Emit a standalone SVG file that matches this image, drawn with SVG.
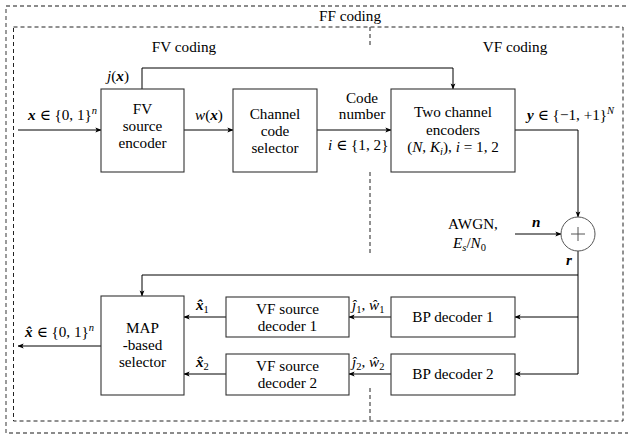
<svg xmlns="http://www.w3.org/2000/svg" width="628" height="434" viewBox="0 0 628 434">
<style>
text{font-family:"Liberation Serif","DejaVu Serif",serif;font-size:15.2px;fill:#000}
.c{text-anchor:middle}
.m{font-style:italic}
.b{font-weight:bold;font-style:italic}
.s{font-size:10.5px}
.box{fill:#fff;stroke:#333;stroke-width:1.1}
.ln{fill:none;stroke:#000;stroke-width:1}
.d1{fill:none;stroke:#666;stroke-width:1.3;stroke-dasharray:4 3}
.d2{fill:none;stroke:#222;stroke-width:1;stroke-dasharray:4 3}
</style>
<defs>
<marker id="ah" viewBox="0 0 8 8" refX="7.5" refY="4" markerWidth="6" markerHeight="6" markerUnits="userSpaceOnUse" orient="auto">
<path d="M0,0.8 L8,4 L0,7.2 L1.8,4 Z" fill="#000"/>
</marker>
</defs>
<rect width="628" height="434" fill="#fff"/>
<g id="frames">
<rect class="d1" x="6" y="6" width="630" height="427"/>
<rect class="d2" x="13.5" y="27" width="609.5" height="394"/>
<path class="d2" d="M370,27 V48 M370,172 V253 M370,388 V421"/>
<text class="c" x="350" y="21">FF coding</text>
<text class="c" x="184" y="52">FV coding</text>
<text class="c" x="515" y="52">VF coding</text>
</g>
<g id="connectors">
<path class="ln" d="M18,130 H101" marker-end="url(#ah)"/>
<path class="ln" d="M184,130 H233" marker-end="url(#ah)"/>
<path class="ln" d="M317,130 H391" marker-end="url(#ah)"/>
<path class="ln" d="M142,89 V68 H453 V89" marker-end="url(#ah)"/>
<path class="ln" d="M515,130 H578 V217" marker-end="url(#ah)"/>
<path class="ln" d="M515,234 H561" marker-end="url(#ah)"/>
<path class="ln" d="M578,251 V374"/>
<path class="ln" d="M578,275 H142 V296" marker-end="url(#ah)"/>
<path class="ln" d="M578,317 H515" marker-end="url(#ah)"/>
<path class="ln" d="M578,374 H515" marker-end="url(#ah)"/>
<path class="ln" d="M391,317 H349" marker-end="url(#ah)"/>
<path class="ln" d="M391,374 H349" marker-end="url(#ah)"/>
<path class="ln" d="M226,317 H184" marker-end="url(#ah)"/>
<path class="ln" d="M226,374 H184" marker-end="url(#ah)"/>
<path class="ln" d="M101,346 H18" marker-end="url(#ah)"/>
</g>
<g id="labels">
<text x="28" y="120"><tspan class="b">x</tspan> ∈ {0, 1}<tspan class="m s" dy="-6">n</tspan></text>
<text x="107" y="81"><tspan class="m">j</tspan>(<tspan class="b">x</tspan>)</text>
<text x="195" y="120"><tspan class="m">w</tspan>(<tspan class="b">x</tspan>)</text>
<text class="c" x="362" y="103">Code</text>
<text class="c" x="362" y="119">number</text>
<text x="328" y="150"><tspan class="m">i</tspan> ∈ {1, 2}</text>
<text x="527" y="120"><tspan class="b">y</tspan> ∈ {−1, +1}<tspan class="m s" dy="-6">N</tspan></text>
<text class="c" x="473" y="229">AWGN,</text>
<text x="453" y="248"><tspan class="m">E</tspan><tspan class="m s" dy="3">s</tspan><tspan dy="-3">/</tspan><tspan class="m">N</tspan><tspan class="s" dy="3">0</tspan></text>
<text x="532" y="227" class="b">n</text>
<text x="566" y="265" class="b">r</text>
<text x="352" y="310"><tspan class="m">ĵ</tspan><tspan class="s" dy="3">1</tspan><tspan dy="-3">, </tspan><tspan class="m">ŵ</tspan><tspan class="s" dy="3">1</tspan></text>
<text x="352" y="367"><tspan class="m">ĵ</tspan><tspan class="s" dy="3">2</tspan><tspan dy="-3">, </tspan><tspan class="m">ŵ</tspan><tspan class="s" dy="3">2</tspan></text>
<text x="196" y="310"><tspan class="b">x̂</tspan><tspan class="s" dy="3">1</tspan></text>
<text x="196" y="367"><tspan class="b">x̂</tspan><tspan class="s" dy="3">2</tspan></text>
<text x="25" y="337"><tspan class="b">x̂</tspan> ∈ {0, 1}<tspan class="m s" dy="-6">n</tspan></text>
</g>
<g id="fv_encoder">
<rect class="box" x="101" y="89" width="83" height="83"/>
<text class="c" x="142.5" y="114">FV</text>
<text class="c" x="142.5" y="131">source</text>
<text class="c" x="142.5" y="148">encoder</text>
</g>
<g id="code_selector">
<rect class="box" x="233" y="89" width="84" height="83"/>
<text class="c" x="275" y="119">Channel</text>
<text class="c" x="275" y="136">code</text>
<text class="c" x="275" y="153">selector</text>
</g>
<g id="channel_encoders">
<rect class="box" x="391" y="89" width="124" height="83"/>
<text class="c" x="453" y="117">Two channel</text>
<text class="c" x="453" y="135">encoders</text>
<text class="c" x="453" y="152">(<tspan class="m">N</tspan>, <tspan class="m">K</tspan><tspan class="m s" dy="3">i</tspan><tspan dy="-3">), </tspan><tspan class="m">i</tspan> = 1, 2</text>
</g>
<g id="adder">
<circle cx="578" cy="234" r="17" fill="#fff" stroke="#555" stroke-width="1"/>
<path d="M571,234 H585 M578,227 V241" stroke="#555" stroke-width="1"/>
</g>
<g id="map_selector">
<rect class="box" x="101" y="296" width="83" height="99"/>
<text class="c" x="142.5" y="333">MAP</text>
<text class="c" x="142.5" y="350">-based</text>
<text class="c" x="142.5" y="367">selector</text>
</g>
<g id="vf_decoder1">
<rect class="box" x="226" y="297" width="123" height="40"/>
<text class="c" x="287.5" y="314">VF source</text>
<text class="c" x="287.5" y="331">decoder 1</text>
</g>
<g id="vf_decoder2">
<rect class="box" x="226" y="354" width="123" height="41"/>
<text class="c" x="287.5" y="371">VF source</text>
<text class="c" x="287.5" y="388">decoder 2</text>
</g>
<g id="bp_decoder1">
<rect class="box" x="391" y="297" width="124" height="40"/>
<text class="c" x="453" y="322">BP decoder 1</text>
</g>
<g id="bp_decoder2">
<rect class="box" x="391" y="354" width="124" height="41"/>
<text class="c" x="453" y="379">BP decoder 2</text>
</g>
</svg>
